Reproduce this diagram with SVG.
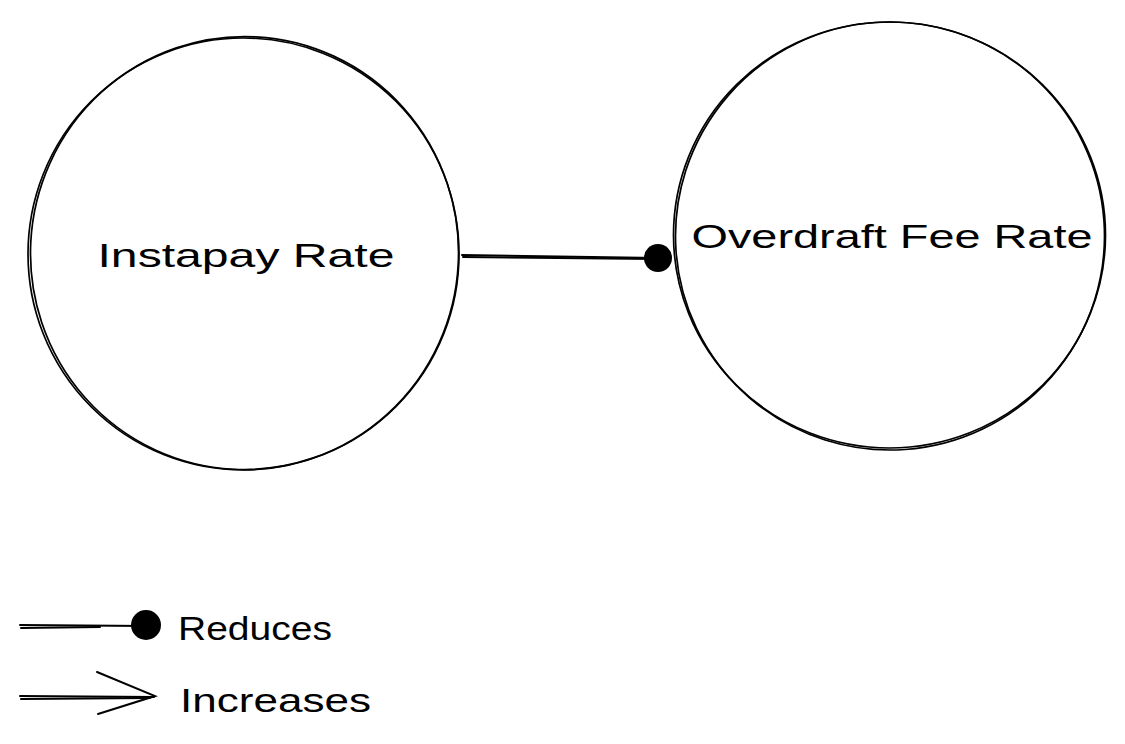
<svg xmlns="http://www.w3.org/2000/svg" width="1125" height="744" viewBox="0 0 1125 744">
<style>
.c{fill:none;stroke:#000;stroke-width:1.7}
.l{fill:none;stroke:#000;stroke-width:2;stroke-linecap:round}
.t{font-family:"Comic Sans MS","Liberation Sans",sans-serif;fill:#000}
</style>
<rect width="1125" height="744" fill="#ffffff"/>
<g id="node-instapay">
<ellipse class="c" cx="243.5" cy="254" rx="215.5" ry="216"/>
<ellipse class="c" cx="244.5" cy="253" rx="214" ry="216.5" transform="rotate(3 244 253)"/>
<text class="t" x="246" y="267" font-size="34" text-anchor="middle" textLength="297" lengthAdjust="spacingAndGlyphs">Instapay Rate</text>
</g>
<g id="node-overdraft">
<ellipse class="c" cx="889.5" cy="235" rx="216" ry="213"/>
<ellipse class="c" cx="890" cy="236" rx="214.5" ry="214" transform="rotate(-4 890 236)"/>
<text class="t" x="892" y="248" font-size="34" text-anchor="middle" textLength="401" lengthAdjust="spacingAndGlyphs">Overdraft Fee Rate</text>
</g>
<g id="connectors">
<path class="l" d="M462 255 L658 258"/>
<path class="l" d="M463 257 L655 259"/>
<circle cx="658" cy="258" r="14" fill="#000"/>
</g>
<g id="legend">
<path class="l" d="M20 625 L146 626"/>
<path class="l" d="M21 628 L100 627"/>
<circle cx="146" cy="625" r="15" fill="#000"/>
<text class="t" x="178" y="640" font-size="34" textLength="154" lengthAdjust="spacingAndGlyphs">Reduces</text>
<path class="l" d="M20 696 L154 697"/>
<path class="l" d="M21 699 L150 698"/>
<path class="l" d="M97 672 L155 696 L98 714"/>
<text class="t" x="180" y="712" font-size="34" textLength="191" lengthAdjust="spacingAndGlyphs">Increases</text>
</g>
</svg>
